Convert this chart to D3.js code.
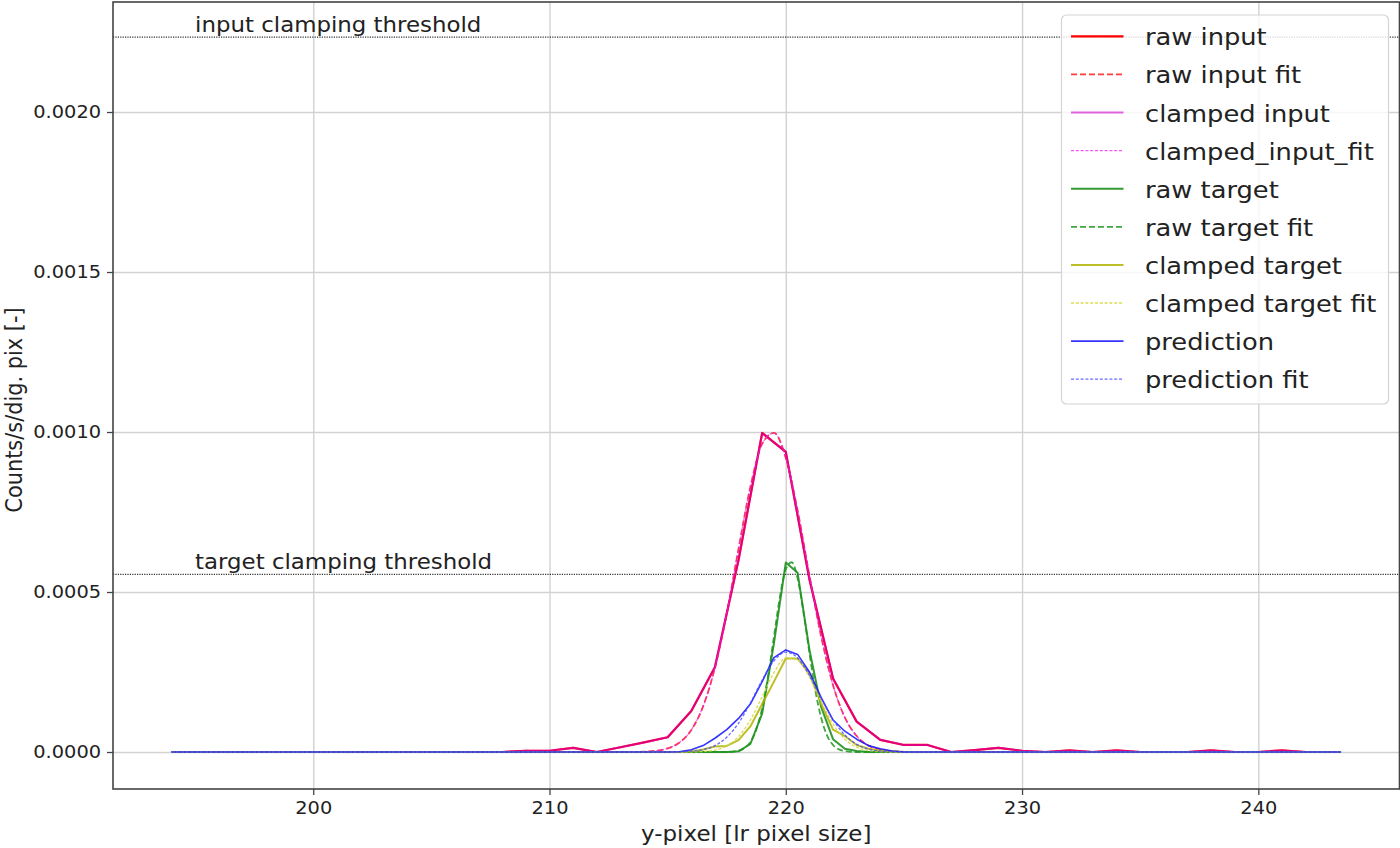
<!DOCTYPE html>
<html lang="en">
<head>
  <meta charset="UTF-8">
  <title>Clamping thresholds profile</title>
  <script src="https://d3js.org/d3.v7.min.js"></script>
  <style>
    body { margin: 0; background: #fff; }
    svg text { font-family: "DejaVu Sans", sans-serif; fill: #222; }
    .grid line { stroke: #d2d2d2; stroke-width: 1.4; }
    .grid path { display: none; }
    .axis path { display: none; }
    .axis line { stroke: #444; stroke-width: 1.3; }
    .axis text { font-size: 17.6px; }
    .series { fill: none; stroke-linejoin: round; }
  </style>
</head>
<body>
  <svg id="chart" width="1400" height="848"></svg>

  <script>
    // thresholds
    const inputThreshold = 0.002234;
    const targetThreshold = 0.000555;

    // low-res input, one sample per pixel
    const inputX = [194, 195, 196, 197, 198, 199, 200, 201, 202, 203, 204, 205, 206, 207,
                    208, 209, 210, 211, 212, 213, 214, 215, 216, 217, 218, 219, 220, 221,
                    222, 223, 224, 225, 226, 227, 228, 229, 230, 231, 232, 233, 234, 235,
                    236, 237, 238, 239, 240, 241, 242, 243];
    const rawInput = [0, 0, 0, 0, 0, 0, 0, 0, 0, 0, 0, 0, 0, 0,
                      0, 4e-6, 4e-6, 1.3e-5, 0, 1.5e-5, 3.0e-5, 4.6e-5, 1.28e-4, 2.65e-4, 6.0e-4, 9.97e-4, 9.38e-4, 5.4e-4,
                      2.3e-4, 9.5e-5, 3.8e-5, 2.2e-5, 2.2e-5, 0, 6e-6, 1.3e-5, 4e-6, 0, 5e-6, 0, 5e-6, 0,
                      0, 0, 5e-6, 0, 0, 5e-6, 0, 0];
    const clampedInput = [0, 0, 0, 0, 0, 0, 0, 0, 0, 0, 0, 0, 0, 0,
                          0, 4e-6, 4e-6, 1.3e-5, 0, 1.5e-5, 3.0e-5, 4.6e-5, 1.28e-4, 2.65e-4, 6.0e-4, 9.97e-4, 9.38e-4, 5.4e-4,
                          2.3e-4, 9.5e-5, 3.8e-5, 2.2e-5, 2.2e-5, 0, 6e-6, 1.3e-5, 4e-6, 0, 5e-6, 0, 5e-6, 0,
                          0, 0, 5e-6, 0, 0, 5e-6, 0, 0];

    // input fits
    const inputFitX = [194, 212.5, 213, 213.5, 214, 214.5, 215, 215.5, 216, 216.5, 217, 217.5, 218, 218.5,
                       219, 219.5, 220, 220.5, 221, 221.5, 222, 222.5, 223, 223.5, 224, 224.5, 225, 225.5,
                       226, 243.5];
    const rawInputFit = [0, 0, 0, 3e-7, 1.2e-6, 3.8e-6, 1.13e-5, 2.96e-5, 6.87e-5, 1.426e-4, 2.63e-4, 4.33e-4, 6.35e-4, 8.28e-4,
                         9.63e-4, 9.97e-4, 9.19e-4, 7.55e-4, 5.52e-4, 3.60e-4, 2.09e-4, 1.08e-4, 5.0e-5, 2.04e-5, 7.5e-6, 2.4e-6, 7e-7, 0,
                         0, 0];
    const clampedInputFit = [0, 0, 0, 3e-7, 1.2e-6, 3.8e-6, 1.13e-5, 2.96e-5, 6.87e-5, 1.426e-4, 2.63e-4, 4.33e-4, 6.35e-4, 8.28e-4,
                             9.63e-4, 9.97e-4, 9.19e-4, 7.55e-4, 5.52e-4, 3.60e-4, 2.09e-4, 1.08e-4, 5.0e-5, 2.04e-5, 7.5e-6, 2.4e-6, 7e-7, 0,
                             0, 0];

    // target + prediction, half-pixel sampling
    const targetX = [194, 215, 215.5, 216, 216.5, 217, 217.5, 218, 218.5, 219, 219.5, 220,
                     220.5, 221, 221.5, 222, 222.5, 223, 223.5, 224, 224.5, 225, 225.5, 243.5];
    const rawTarget = [0, 0, 0, 0, 0, 0, 0, 2e-6, 2.5e-5, 1.2e-4, 3.4e-4, 5.92e-4,
                       5.6e-4, 3.2e-4, 1.4e-4, 4.0e-5, 1.0e-5, 3e-6, 0, 0, 0, 0, 0, 0];
    const clampedTarget = [0, 0, 0, 2e-6, 8e-6, 1.7e-5, 1.9e-5, 3.7e-5, 8.0e-5, 1.5e-4, 2.2e-4, 2.92e-4,
                           2.92e-4, 2.45e-4, 1.5e-4, 7.0e-5, 5.0e-5, 2.2e-5, 1.0e-5, 5e-6, 2e-6, 0, 0, 0];
    const prediction = [0, 0, 1e-6, 7e-6, 2.0e-5, 4.3e-5, 7.0e-5, 1.05e-4, 1.5e-4, 2.2e-4, 2.95e-4, 3.19e-4,
                        3.05e-4, 2.5e-4, 1.7e-4, 1.0e-4, 6.5e-5, 4.0e-5, 2.0e-5, 1.0e-5, 3e-6, 0, 0, 0];

    // target fits
    const targetFitX = [194, 217, 217.5, 218, 218.25, 218.5, 218.75, 219, 219.25, 219.5, 219.75, 220,
                        220.25, 220.5, 220.75, 221, 221.25, 221.5, 221.75, 222, 222.25, 222.5, 223, 243.5];
    const rawTargetFit = [0, 0, 0, 4e-6, 1.23e-5, 3.1e-5, 7.0e-5, 1.37e-4, 2.37e-4, 3.61e-4, 4.84e-4, 5.71e-4,
                          5.93e-4, 5.43e-4, 4.37e-4, 3.10e-4, 1.93e-4, 1.06e-4, 5.1e-5, 2.2e-5, 8.2e-6, 3e-6, 0, 0];
    const smoothFitX = [194, 215, 215.5, 216, 216.5, 217, 217.5, 218, 218.5, 219, 219.5, 220,
                        220.5, 221, 221.5, 222, 222.5, 223, 223.5, 224, 224.5, 225, 225.5, 243.5];
    const clampedTargetFit = [0, 0, 0, 4e-7, 1.7e-6, 6e-6, 1.9e-5, 4.8e-5, 1.0e-4, 1.73e-4, 2.48e-4, 2.94e-4,
                              2.88e-4, 2.34e-4, 1.57e-4, 8.8e-5, 4.0e-5, 1.5e-5, 5e-6, 1e-6, 0, 0, 0, 0];
    const predictionFit = [0, 2e-7, 7e-7, 2.4e-6, 7.5e-6, 2.0e-5, 4.6e-5, 9.0e-5, 1.53e-4, 2.25e-4, 2.85e-4, 3.12e-4,
                           2.94e-4, 2.39e-4, 1.67e-4, 1.01e-4, 5.3e-5, 2.4e-5, 9e-6, 3e-6, 1e-6, 0, 0, 0];

    const xTicks = [200, 210, 220, 230, 240];
    const yTicks = [0, 0.0005, 0.001, 0.0015, 0.002];

    const SX = 1.1; // text in the reference is a bit wider than tall

    const box = { left: 113, right: 1399.5, top: 2, bottom: 789 };

    const svg = d3.select("#chart");

    const x = d3.scaleLinear().domain([191.525, 245.975]).range([box.left, box.right]);
    const y = d3.scaleLinear().domain([-0.0001156, 0.0023438]).range([box.bottom, box.top]);

    // grid
    svg.append("g")
       .attr("class", "grid")
       .attr("transform", `translate(0,${box.bottom})`)
       .call(d3.axisBottom(x).tickValues(xTicks).tickSize(-(box.bottom - box.top)).tickFormat(""));
    svg.append("g")
       .attr("class", "grid")
       .attr("transform", `translate(${box.left},0)`)
       .call(d3.axisLeft(y).tickValues(yTicks).tickSize(-(box.right - box.left)).tickFormat(""));

    // threshold lines
    [inputThreshold, targetThreshold].forEach(t => {
      svg.append("line")
         .attr("x1", box.left).attr("x2", box.right)
         .attr("y1", y(t)).attr("y2", y(t))
         .attr("stroke", "#333")
         .attr("stroke-width", 1.2)
         .attr("stroke-dasharray", "1.2,1.2");
    });

    const lineLinear = d3.line().x(d => x(d[0])).y(d => y(d[1]));
    const lineSmooth = d3.line().x(d => x(d[0])).y(d => y(d[1])).curve(d3.curveMonotoneX);

    const series = [
      { label: "raw input", xs: inputX, ys: rawInput, color: "#ff0000", width: 2.2, dash: null, opacity: 1, smooth: false },
      { label: "raw input fit", xs: inputFitX, ys: rawInputFit, color: "#ff1a1a", width: 1.8, dash: "6,3", opacity: 0.85, smooth: true },
      { label: "clamped input", xs: inputX, ys: clampedInput, color: "#d000d0", width: 2, dash: null, opacity: 0.6, smooth: false },
      { label: "clamped_input_fit", xs: inputFitX, ys: clampedInputFit, color: "#f020f0", width: 1.2, dash: "3,1.8", opacity: 0.75, smooth: true },
      { label: "raw target", xs: targetX, ys: rawTarget, color: "#108a10", width: 2, dash: null, opacity: 0.85, smooth: false },
      { label: "raw target fit", xs: targetFitX, ys: rawTargetFit, color: "#1e961e", width: 1.8, dash: "6,3", opacity: 0.85, smooth: true },
      { label: "clamped target", xs: targetX, ys: clampedTarget, color: "#b0b400", width: 2, dash: null, opacity: 0.85, smooth: false },
      { label: "clamped target fit", xs: smoothFitX, ys: clampedTargetFit, color: "#d8d840", width: 1.3, dash: "3,1.8", opacity: 0.9, smooth: true },
      { label: "prediction", xs: targetX, ys: prediction, color: "#1010ff", width: 1.6, dash: null, opacity: 0.85, smooth: false },
      { label: "prediction fit", xs: smoothFitX, ys: predictionFit, color: "#5050ff", width: 1.3, dash: "3,1.8", opacity: 0.85, smooth: true }
    ];

    svg.append("g")
       .selectAll("path")
       .data(series)
       .enter()
       .append("path")
       .attr("class", "series")
       .attr("d", s => (s.smooth ? lineSmooth : lineLinear)(d3.zip(s.xs, s.ys)))
       .attr("stroke", s => s.color)
       .attr("stroke-width", s => s.width)
       .attr("stroke-dasharray", s => s.dash)
       .attr("stroke-opacity", s => s.opacity);

    // threshold labels
    [["input clamping threshold", inputThreshold], ["target clamping threshold", targetThreshold]].forEach(([txt, t]) => {
      svg.append("text")
         .attr("transform", `translate(${x(195)},${y(t) - 5}) scale(${SX},1)`)
         .style("font-size", "20.8px")
         .text(txt);
    });

    // axes
    const xAxis = svg.append("g")
       .attr("class", "axis")
       .attr("transform", `translate(0,${box.bottom})`)
       .call(d3.axisBottom(x).tickValues(xTicks).tickSize(6).tickPadding(7));
    xAxis.selectAll("text").attr("transform", `scale(${SX},1)`);

    const yAxis = svg.append("g")
       .attr("class", "axis")
       .attr("transform", `translate(${box.left},0)`)
       .call(d3.axisLeft(y).tickValues(yTicks).tickFormat(d3.format(".4f")).tickSize(6).tickPadding(4.9));
    yAxis.selectAll("text").attr("transform", `scale(${SX},1)`);

    // spines
    svg.append("rect")
       .attr("x", box.left).attr("y", box.top)
       .attr("width", box.right - box.left).attr("height", box.bottom - box.top)
       .attr("fill", "none")
       .attr("stroke", "#444")
       .attr("stroke-width", 1.6);

    // axis labels
    svg.append("text")
       .attr("transform", `translate(${(box.left + box.right) / 2},841) scale(${SX},1)`)
       .attr("text-anchor", "middle")
       .style("font-size", "20.9px")
       .text("y-pixel [lr pixel size]");

    svg.append("text")
       .attr("transform", `translate(22,410) scale(${SX},1) rotate(-90)`)
       .attr("text-anchor", "middle")
       .style("font-size", "20.9px")
       .text("Counts/s/dig. pix [-]");

    // legend
    const legend = svg.append("g").attr("transform", "translate(1061.5,15)");
    legend.append("rect")
       .attr("width", 327).attr("height", 389)
       .attr("rx", 5)
       .attr("fill", "#fff").attr("fill-opacity", 0.8)
       .attr("stroke", "#d4d4d4").attr("stroke-width", 1.2);

    const rows = legend.selectAll("g.row")
       .data(series)
       .enter()
       .append("g")
       .attr("class", "row")
       .attr("transform", (s, i) => `translate(0,${21.3 + i * 38.1})`);

    rows.append("line")
       .attr("x1", 9.5).attr("x2", 62)
       .attr("stroke", s => s.color)
       .attr("stroke-width", s => s.width)
       .attr("stroke-dasharray", s => s.dash)
       .attr("stroke-opacity", s => s.opacity);

    rows.append("text")
       .attr("transform", `translate(83.5,9) scale(${SX},1)`)
       .style("font-size", "23.4px")
       .text(s => s.label);
  </script>
</body>
</html>
